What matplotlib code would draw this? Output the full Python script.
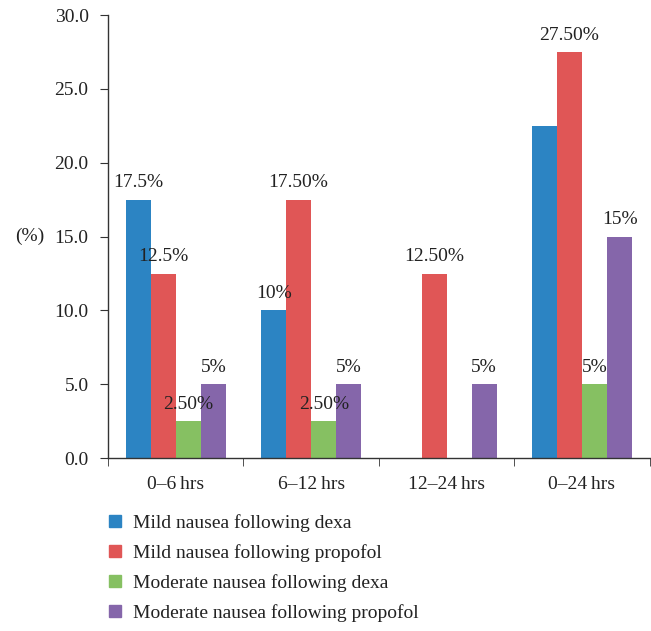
import numpy as np
import matplotlib.pyplot as plt
from matplotlib.ticker import FixedLocator, FormatStrFormatter
from matplotlib.lines import Line2D

plt.rcParams['font.family'] = ['Liberation Serif', 'DejaVu Serif']

# data
categories = ['0\u20136\u2009hrs', '6\u201312\u2009hrs', '12\u201324\u2009hrs', '0\u201324\u2009hrs']
series = ['Mild nausea following dexa', 'Mild nausea following propofol',
          'Moderate nausea following dexa', 'Moderate nausea following propofol']
mild_dexa = [17.5, 10.0, 0.0, 22.5]
mild_prop = [12.5, 17.5, 12.5, 27.5]
mod_dexa = [2.5, 2.5, 0.0, 5.0]
mod_prop = [5.0, 5.0, 5.0, 15.0]
labels_mild_dexa = ['17.5%', '10%', '', '']
labels_mild_prop = ['12.5%', '17.50%', '12.50%', '27.50%']
labels_mod_dexa = ['2.50%', '2.50%', '', '5%']
labels_mod_prop = ['5%', '5%', '5%', '15%']

colors = ['#2c84c3', '#e05656', '#86c062', '#8566aa']
fs = 14

fig = plt.figure(figsize=(6.51, 6.31), dpi=100)
ax = fig.add_axes([0.166, 0.274, 0.832, 0.702])

x = np.arange(len(categories))
w = 0.185
all_vals = [mild_dexa, mild_prop, mod_dexa, mod_prop]
all_labels = [labels_mild_dexa, labels_mild_prop, labels_mod_dexa, labels_mod_prop]
for i, (vals, labs) in enumerate(zip(all_vals, all_labels)):
    pos = x + (i - 1.5) * w
    ax.bar(pos, vals, width=w, color=colors[i], label=series[i])
    for p, v, t in zip(pos, vals, labs):
        if t:
            ax.annotate(t, (p, v), xytext=(0, 9), textcoords='offset points',
                        ha='center', va='baseline', fontsize=fs, color='#222222')

ax.set_xlim(-0.5, 3.5)
ax.set_ylim(0, 30)
ax.set_yticks(np.arange(0, 30.1, 5))
ax.yaxis.set_major_formatter(FormatStrFormatter('%.1f'))
ax.set_xticks(x)
ax.set_xticklabels(categories)
ax.xaxis.set_minor_locator(FixedLocator([-0.5, 0.5, 1.5, 2.5, 3.5]))
ax.tick_params(axis='x', which='major', length=0, pad=13, labelsize=fs, labelcolor='#222222')
ax.tick_params(axis='x', which='minor', length=6, direction='out', color='#333333')
ax.tick_params(axis='y', length=6, direction='out', color='#333333', labelsize=fs,
               labelcolor='#222222', pad=8)
for s in ['top', 'right']:
    ax.spines[s].set_visible(False)
for s in ['left', 'bottom']:
    ax.spines[s].set_color('#333333')
    ax.spines[s].set_linewidth(1.0)

ax.set_ylabel('(%)', rotation=0, fontsize=fs, color='#222222', va='center')
ax.yaxis.set_label_coords(-0.144, 0.5)

handles = [Line2D([], [], marker='s', linestyle='none', markersize=8,
                  markerfacecolor=c, markeredgecolor=c) for c in colors]
fig.legend(handles, series, loc='upper left', bbox_to_anchor=(0.150, 0.198),
           frameon=False, fontsize=fs, handletextpad=0.4, labelspacing=0.62,
           handlelength=1.0, borderaxespad=0, labelcolor='#222222')

fig.savefig('out.png', dpi=100)
